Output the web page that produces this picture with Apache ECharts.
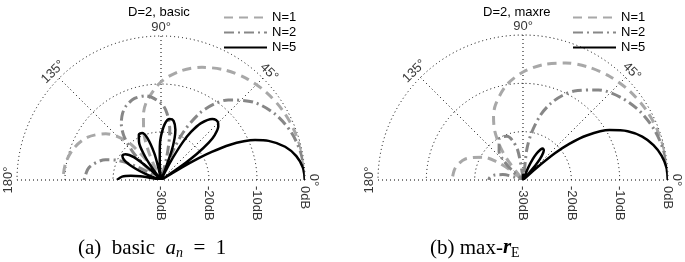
<!DOCTYPE html>
<html><head><meta charset="utf-8">
<script src="https://cdn.jsdelivr.net/npm/echarts@6/dist/echarts.min.js"></script>
<style>html,body{margin:0;padding:0;background:#fff}#c{width:685px;height:262px}</style>
</head><body><div id="c"></div><script>
// ---- data ----
const angleTicks = [0, 45, 90, 135, 180];
const angleTickLabels = ['0°', '45°', '90°', '135°', '180°'];
const radiusTicks = [-30, -20, -10, 0];
const radiusTickLabels = ['-30dB', '-20dB', '-10dB', '0dB'];
const seriesNames = ['N=1', 'N=2', 'N=5'];
const panelTitles = ['D=2, basic', 'D=2, maxre'];

// panel (a): basic
const basicN1Angle = [0,10,20,30,40,50,60,70,80,90,100,105,110,113,115,117,123,125,130,135,140,150,160,170,180];
const basicN1dB = [0,-0.09,-0.36,-0.81,-1.47,-2.36,-3.52,-5.02,-6.95,-9.54,-13.25,-15.87,-19.55,-22.75,-25.75,-30,-30,-26.2,-20.4,-17.2,-15.0,-12.25,-10.66,-9.81,-9.54];

const basicN2Angle = [0,10,20,30,40,50,55,60,65,68,70,74,76,80,85,90,100,108,115,120,125,130,135,138,141,147,150,155,160,170,180];
const basicN2dB = [0,-0.27,-1.09,-2.54,-4.79,-8.23,-10.67,-13.98,-19.02,-24.1,-30,-30,-24.97,-19.46,-15.97,-13.98,-12.2,-12.14,-12.91,-13.98,-15.58,-17.95,-21.63,-25.1,-30,-30,-25.4,-20.48,-17.69,-14.8,-13.98];

const basicN5Angle = [0,5,10,15,20,23,25,27,29,30,31,31.7,
  33.8,34,35,36,38,40,43,45,47.5,50,55,58,60,62,63,63.6,
  67.5,68,70,72,74,78,82,86,90,92,94,95.6,
  101,102,104,108,112,116,120,124,126,127.6,
  134.3,136,140,144,148,152,156,158,160,
  167.3,168,170,172,175,180];
const basicN5dB = [0,-0.33,-1.37,-3.22,-6.16,-8.72,-10.94,-13.83,-17.91,-20.8,-25.0,-30,
  -30,-28.4,-23.7,-20.8,-17.37,-15.35,-13.69,-13.17,-13.03,-13.38,-15.59,-18.2,-20.83,-24.8,-27.83,-30,
  -30,-28.1,-23.5,-20.83,-19.13,-17.4,-17.17,-18.22,-20.83,-23.0,-26.27,-30,
  -30,-27.55,-24.27,-20.83,-19.46,-19.48,-20.83,-23.96,-26.7,-30,
  -30,-26.74,-22.6,-20.83,-20.5,-21.49,-24.13,-26.4,-30,
  -30,-28.6,-25.6,-23.67,-21.86,-20.83];

// panel (b): max-rE
const maxreN1Angle = [0,10,20,30,40,50,60,70,80,90,100,110,115,120,125,128,130.8,139.6,142,145,150,160,170,180];
const maxreN1dB = [0,-0.08,-0.31,-0.71,-1.28,-2.04,-3.01,-4.23,-5.75,-7.66,-10.1,-13.4,-15.57,-18.32,-22.1,-25.4,-30,-30,-26.5,-23.6,-20.6,-17.3,-15.77,-15.31];

const maxreN2Angle = [0,10,20,30,40,50,60,65,70,75,80,83,86.2,94,95,100,105,110,120,130,135,140,142.3,158.4,160,165,170,175,180];
const maxreN2dB = [0,-0.2,-0.83,-1.9,-3.48,-5.68,-8.73,-10.7,-13.1,-16.14,-20.3,-23.8,-30,-30,-28.8,-23.8,-21.49,-20.35,-20.17,-22.3,-24.4,-27.7,-30,-30,-28.6,-25.7,-24.05,-23.16,-22.9];

const maxreN5Angle = [0,5,10,15,20,25,30,35,38,40,42,43.3,47.6,48,50,52,55,58,60,63,65,67,69.3,83,85,88,91,93,180];
const maxreN5dB = [0,-0.22,-0.89,-2.05,-3.75,-6.11,-9.34,-13.93,-17.85,-21.39,-26.5,-30,-30,-29.0,-25.56,-23.73,-22.48,-22.33,-22.72,-23.97,-25.3,-27.13,-30,-30,-29.47,-28.9,-29.3,-30,-30];

// ---- layout & styles ----
const FONT = 'Liberation Sans, Arial, sans-serif';
const SERIF = 'Liberation Serif, Times New Roman, serif';
const panels = [
  { center: [161, 180], radius: 144, titleLeft: 128, legendLeft: 218,
    curves: [[basicN1Angle, basicN1dB], [basicN2Angle, basicN2dB], [basicN5Angle, basicN5dB]] },
  { center: [523, 180], radius: 145, titleLeft: 483, legendLeft: 567,
    curves: [[maxreN1Angle, maxreN1dB], [maxreN2Angle, maxreN2dB], [maxreN5Angle, maxreN5dB]] }
];
const curveStyles = [
  { color: '#a8a8a8', width: 3, type: [9, 6] },
  { color: '#878787', width: 3, type: [10, 4, 2, 4] },
  { color: '#000000', width: 2.5, type: 'solid' }
];
const gridLine = { color: '#000', width: 1, type: [1, 3] };
const labelR = 1.8; // dB beyond outer ring, for angle labels

const option = {
  animation: false,
  backgroundColor: '#fff',
  polar: panels.map(p => ({ center: p.center, radius: p.radius })),
  angleAxis: panels.map((p, i) => ({
    polarIndex: i, type: 'value', min: 0, max: 180, interval: 45,
    startAngle: 0, endAngle: 180, clockwise: false,
    axisLine: { show: false }, axisTick: { show: false }, axisLabel: { show: false },
    splitLine: { show: true, lineStyle: gridLine }
  })),
  radiusAxis: panels.map((p, i) => ({
    polarIndex: i, type: 'value', min: radiusTicks[0], max: radiusTicks[radiusTicks.length - 1], interval: 10,
    axisLine: { show: false }, axisTick: { show: false }, axisLabel: { show: false },
    splitLine: { show: true, lineStyle: gridLine }
  })),
  title: [
    ...panels.map((p, i) => ({
      text: panelTitles[i], left: p.titleLeft, top: 6, padding: 0,
      textStyle: { fontSize: 13, fontWeight: 'normal', fontFamily: FONT, color: '#000' }
    })),
    { text: '(a)  basic  {i|a}{s|n}  =  1', left: 78, top: 236, padding: 0,
      textStyle: { fontSize: 21, fontWeight: 'normal', fontFamily: SERIF, color: '#000', lineHeight: 24,
        rich: {
          i: { fontSize: 21, fontStyle: 'italic', fontFamily: SERIF, color: '#000', lineHeight: 24 },
          s: { fontSize: 14, fontStyle: 'italic', fontFamily: SERIF, color: '#000', verticalAlign: 'bottom', lineHeight: 14 }
        } } },
    { text: '(b) max-{b|r}{s|E}', left: 430, top: 236, padding: 0,
      textStyle: { fontSize: 21, fontWeight: 'normal', fontFamily: SERIF, color: '#000', lineHeight: 24,
        rich: {
          b: { fontSize: 21, fontStyle: 'italic', fontWeight: 'bold', fontFamily: SERIF, color: '#000', lineHeight: 24 },
          s: { fontSize: 14, fontFamily: SERIF, color: '#000', verticalAlign: 'bottom', lineHeight: 14 }
        } } }
  ],
  legend: panels.map(p => ({
    data: seriesNames, left: p.legendLeft, top: 6, orient: 'vertical',
    itemWidth: 43, itemHeight: 14, itemGap: 2, itemStyle: { opacity: 0 },
    textStyle: { fontSize: 13, fontFamily: FONT, color: '#000' }
  })),
  series: []
};

panels.forEach((p, i) => {
  p.curves.forEach((c, k) => {
    option.series.push({
      type: 'line', name: seriesNames[k], coordinateSystem: 'polar', polarIndex: i,
      data: c[0].map((a, j) => [c[1][j], a]),
      symbol: 'none', smooth: 0.3, clip: false, z: 3 + k,
      lineStyle: curveStyles[k], itemStyle: { color: curveStyles[k].color }
    });
  });
  option.series.push({
    type: 'scatter', name: 'angleLabels' + i, coordinateSystem: 'polar', polarIndex: i,
    silent: true, clip: false, symbolSize: 1, itemStyle: { color: 'rgba(0,0,0,0)' },
    data: angleTicks.map((a, j) => ({ value: [labelR, a], label: { rotate: a - 90, formatter: angleTickLabels[j] } })),
    label: { show: true, position: 'inside', align: 'center', verticalAlign: 'middle',
      fontSize: 13, fontFamily: FONT, color: '#000' }
  });
  option.series.push({
    type: 'scatter', name: 'radiusLabels' + i, coordinateSystem: 'polar', polarIndex: i,
    silent: true, clip: false, symbolSize: 1, itemStyle: { color: 'rgba(0,0,0,0)' },
    data: radiusTicks.map((r, j) => ({ value: [r, 0], label: { formatter: radiusTickLabels[j] } })),
    label: { show: true, position: 'inside', align: 'left', verticalAlign: 'middle', rotate: -90,
      padding: [0, 0, 0, 6], fontSize: 13, fontFamily: FONT, color: '#000' }
  });
});

const chart = echarts.init(document.getElementById('c'));
chart.setOption(option);
</script></body></html>
